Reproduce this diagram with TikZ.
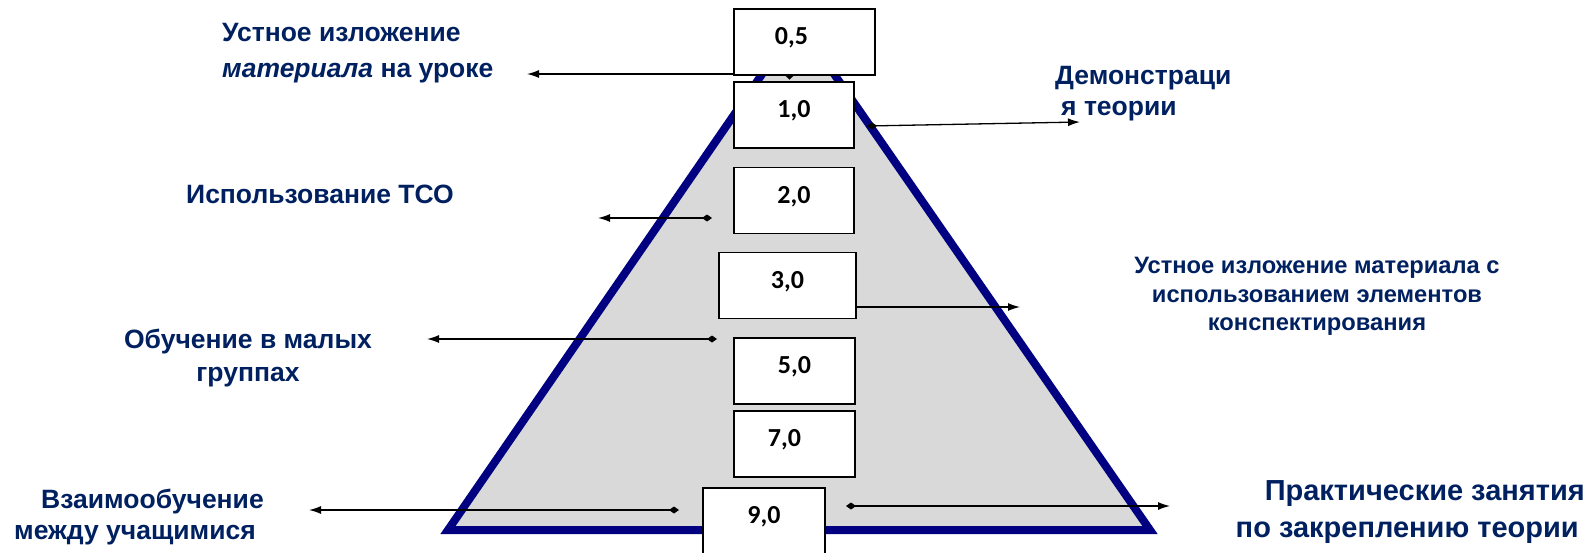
\documentclass[tikz,border=0pt]{standalone}
\usepackage{fontspec}
\setmainfont{Liberation Sans}
\newfontfamily\numfont{Carlito}
\usetikzlibrary{arrows.meta}
\definecolor{Navy}{HTML}{000080}
\definecolor{Ink}{HTML}{002060}
\definecolor{Pyr}{HTML}{D9D9D9}

\begin{document}
\begin{tikzpicture}[x=1pt,y=-1pt,
  valbox/.style={draw,line width=1.6pt,fill=white,minimum width=#1,minimum height=66pt,inner sep=0pt,
    text height=16pt,text depth=11pt,font=\numfont\bfseries\fontsize{26}{26}\selectfont},
  valbox/.default=121pt,
  lbl/.style={text=Ink,inner sep=0pt,font=\bfseries\fontsize{26.5}{31}\selectfont},
  arr/.style={line width=1.3pt,-{Latex[length=12pt,width=8pt]}},
  dia/.style={line width=1.3pt,{Diamond[length=10pt,width=7pt]}-{Latex[length=12pt,width=8pt]}}]
  \useasboundingbox (0,0) rectangle (1591,552);
  % pyramid
  \draw[Navy,line width=8pt,fill=Pyr] (798,22) -- (1150,530) -- (448,530) -- cycle;
  % value boxes
  \node[valbox=141pt] (b05) at (804.5,42) {0,5\hspace*{26pt}};
  \node[valbox=120pt] (b10) at (794,115) {1,0};
  \node[valbox=120pt] (b20) at (794,200.5) {2,0};
  \node[valbox=137pt] (b30) at (787.5,285.5) {3,0};
  \node[valbox] (b50) at (794.5,371) {5,0};
  \node[valbox] (b70) at (794.5,444) {7,0\hspace*{20pt}};
  \node[valbox=122pt] (b90) at (764,521) {9,0};
  % labels
  \node[lbl,anchor=west,align=left] (lUst) at (222,53) {Устное изложение\\[5pt]\textit{материала} на уроке};
  \node[lbl,anchor=west,align=left] (lDem) at (1055,94) {Демонстраци\\\hspace*{6pt}я теории};
  \node[lbl,anchor=west] (lTso) at (186,194) {Использование ТСО};
  \node[lbl,align=center,font=\bfseries\fontsize{23.7}{28.5}\selectfont] (lKon) at (1317,296.5)
    {Устное изложение материала с\\использованием элементов\\конспектирования};
  \node[lbl,align=center] (lObu) at (248,358) {Обучение в малых\\[2pt]группах};
  \node[lbl,anchor=west,align=left] (lVza) at (14,517) {\hspace*{27pt}Взаимообучение\\между учащимися};
  \node[lbl,anchor=east,align=right,font=\bfseries\fontsize{29}{36.5}\selectfont] (lPra) at (1585,512)
    {Практические занятия\\по закреплению теории\hspace*{6pt}};
  % connectors
  \coordinate (e05) at (527,74);
  \coordinate (s10) at (867,126);
  \coordinate (e10) at (1080,122);
  \coordinate (s20) at (712,218);
  \coordinate (e20) at (598,218);
  \coordinate (e30) at (1020,307);
  \coordinate (s50) at (717,339);
  \coordinate (e50) at (427,339);
  \coordinate (s91) at (679,510);
  \coordinate (e91) at (309,510);
  \coordinate (s92) at (846,506);
  \coordinate (e92) at (1170,506);
  \draw[arr] (b05.west |- e05) -- (e05);
  \draw[line width=1pt,-{Latex[length=4pt,width=9pt]}] ([xshift=-15pt]b05.south) -- ++(0,4);
  \draw[dia] (s10) -- (e10);
  \draw[dia] (s20) -- (e20);
  \draw[arr] (b30.east |- e30) -- (e30);
  \draw[dia] (s50) -- (e50);
  \draw[dia] (s91) -- (e91);
  \draw[dia] (s92) -- (e92);
\end{tikzpicture}
\end{document}
